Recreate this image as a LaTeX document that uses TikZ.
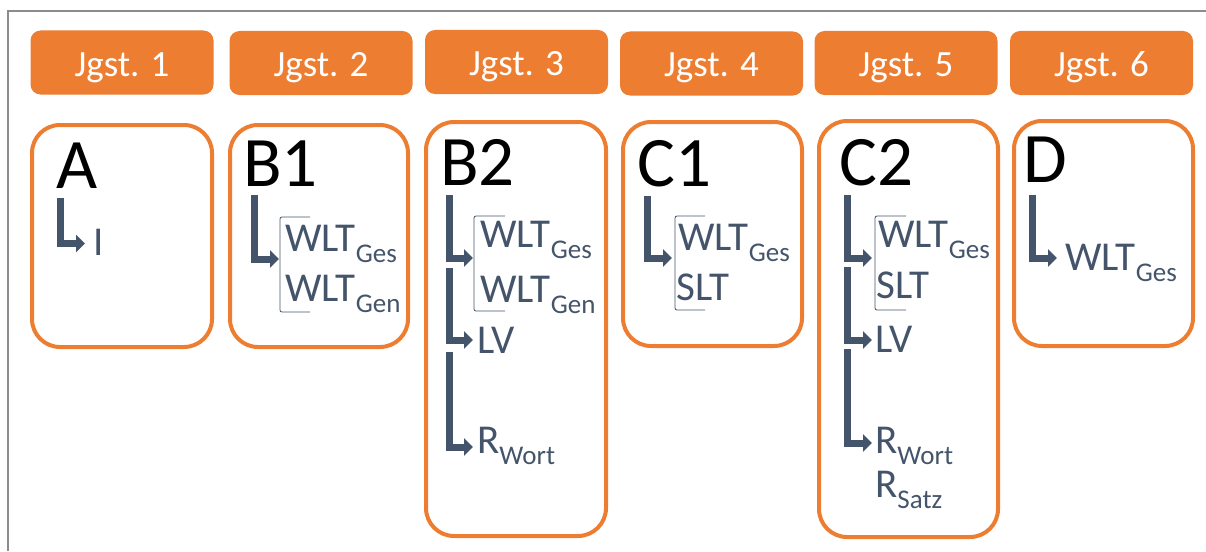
\documentclass[tikz,border=0pt]{standalone}
\usepackage{fontspec}
\setmainfont{Carlito}
\usetikzlibrary{arrows.meta}
\definecolor{orng}{HTML}{ED7D31}
\definecolor{slate}{HTML}{44546A}
\definecolor{framegray}{HTML}{8C8C8C}
\newcommand\subt[1]{\raisebox{-11pt}{\fontsize{27pt}{27pt}\selectfont #1}}
\tikzset{
  hdr/.style={fill=orng, draw=none, rounded corners=10pt, minimum width=183pt, minimum height=64pt,
    text=white, font=\fontsize{37pt}{37pt}\selectfont, text height=27pt, text depth=0pt, inner sep=0pt},
  card/.style={draw=orng, line width=4pt, rounded corners=28pt, inner sep=0pt},
  big/.style={anchor=base west, inner sep=0pt, font=\fontsize{71pt}{71pt}\selectfont},
  item/.style={anchor=base west, inner sep=0pt, text=slate, font=\fontsize{41pt}{41pt}\selectfont},
  arr/.style={draw=slate, line width=7pt, line join=miter, -{Triangle[length=9pt,width=17pt]}},
  brk/.style={draw=slate, line width=0.8pt, rounded corners=2pt},
}
\begin{document}
\begin{tikzpicture}[x=1pt,y=-1pt]
\useasboundingbox (0,0) rectangle (1206,551);
\draw[framegray, line width=1.5pt] (8,551) -- (8,11) -- (1206,11);

% headers
\node[hdr] (h1) at (122,62.5) {Jgst. 1};
\node[hdr] (h2) at (321,63) {Jgst. 2};
\node[hdr] (h3) at (516.5,62) {Jgst. 3};
\node[hdr] (h4) at (711.5,63.5) {Jgst. 4};
\node[hdr] (h5) at (906,63) {Jgst. 5};
\node[hdr] (h6) at (1101.5,63) {Jgst. 6};

% cards
\node[card, minimum width=180pt, minimum height=222pt] (cA) at (122,236) {};
\node[card, minimum width=178pt, minimum height=222pt] (cB1) at (319,236) {};
\node[card, minimum width=180pt, minimum height=414pt] (cB2) at (516,329) {};
\node[card, minimum width=179pt, minimum height=224pt] (cC1) at (712.5,234) {};
\node[card, minimum width=179pt, minimum height=416pt] (cC2) at (908.5,329) {};
\node[card, minimum width=179pt, minimum height=225pt] (cD) at (1103.5,233.5) {};

% big letters
\node[big] (lA) at (56,188) {A};
\node[big] (lB1) at (243,186) {B1};
\node[big] (lB2) at (440,185) {B2};
\node[big] (lC1) at (637,186) {C1};
\node[big] (lC2) at (839,185) {C2};
\node[big] (lD) at (1023,182) {D};

% items
\node[item] (iA) at (93,255) {I};
\node[item] (iB1a) at (285,251) {WLT\subt{Ges}};
\node[item] (iB1b) at (285,301) {WLT\subt{Gen}};
\node[item] (iB2a) at (480,247) {WLT\subt{Ges}};
\node[item] (iB2b) at (480,302) {WLT\subt{Gen}};
\node[item] (iB2c) at (477,353) {LV};
\node[item] (iB2d) at (477,453) {R\subt{Wort}};
\node[item] (iC1a) at (678,250) {WLT\subt{Ges}};
\node[item] (iC1b) at (676,300) {SLT};
\node[item] (iC2a) at (878,247) {WLT\subt{Ges}};
\node[item] (iC2b) at (876,298) {SLT};
\node[item] (iC2c) at (875,352) {LV};
\node[item] (iC2d) at (875,453) {R\subt{Wort}};
\node[item] (iC2e) at (875,497) {R\subt{Satz}};
\node[item] (iD) at (1065,270) {WLT\subt{Ges}};

% arrow coordinates
\coordinate (sA) at (60.5,198);   \coordinate (eA) at (85,243.5);
\coordinate (sB1) at (254,195);   \coordinate (eB1) at (279,259);
\coordinate (sB2a) at (449,195);  \coordinate (eB2a) at (473,258);
\coordinate (sB2b) at (449,268);  \coordinate (eB2b) at (473,340);
\coordinate (sB2c) at (449,352);  \coordinate (eB2c) at (473,447);
\coordinate (sC1) at (647,196);   \coordinate (eC1) at (672,258);
\coordinate (sC2a) at (847.5,195); \coordinate (eC2a) at (872,258);
\coordinate (sC2b) at (847.5,267); \coordinate (eC2b) at (872,340);
\coordinate (sC2c) at (847.5,349); \coordinate (eC2c) at (872,443);
\coordinate (sD) at (1032,195);   \coordinate (eD) at (1057,258);

\foreach \n in {A,B1,B2a,B2b,B2c,C1,C2a,C2b,C2c,D}
  \draw[arr] (s\n) |- (e\n);

% brackets
\draw[brk] (310,217) -- (280,217) -- (280,312) -- (310,312);
\draw[brk] (505,216) -- (474,216) -- (474,311) -- (505,311);
\draw[brk] (705,216) -- (675,216) -- (675,310) -- (705,310);
\draw[brk] (906,216) -- (875,216) -- (875,310) -- (906,310);
\end{tikzpicture}
\end{document}
